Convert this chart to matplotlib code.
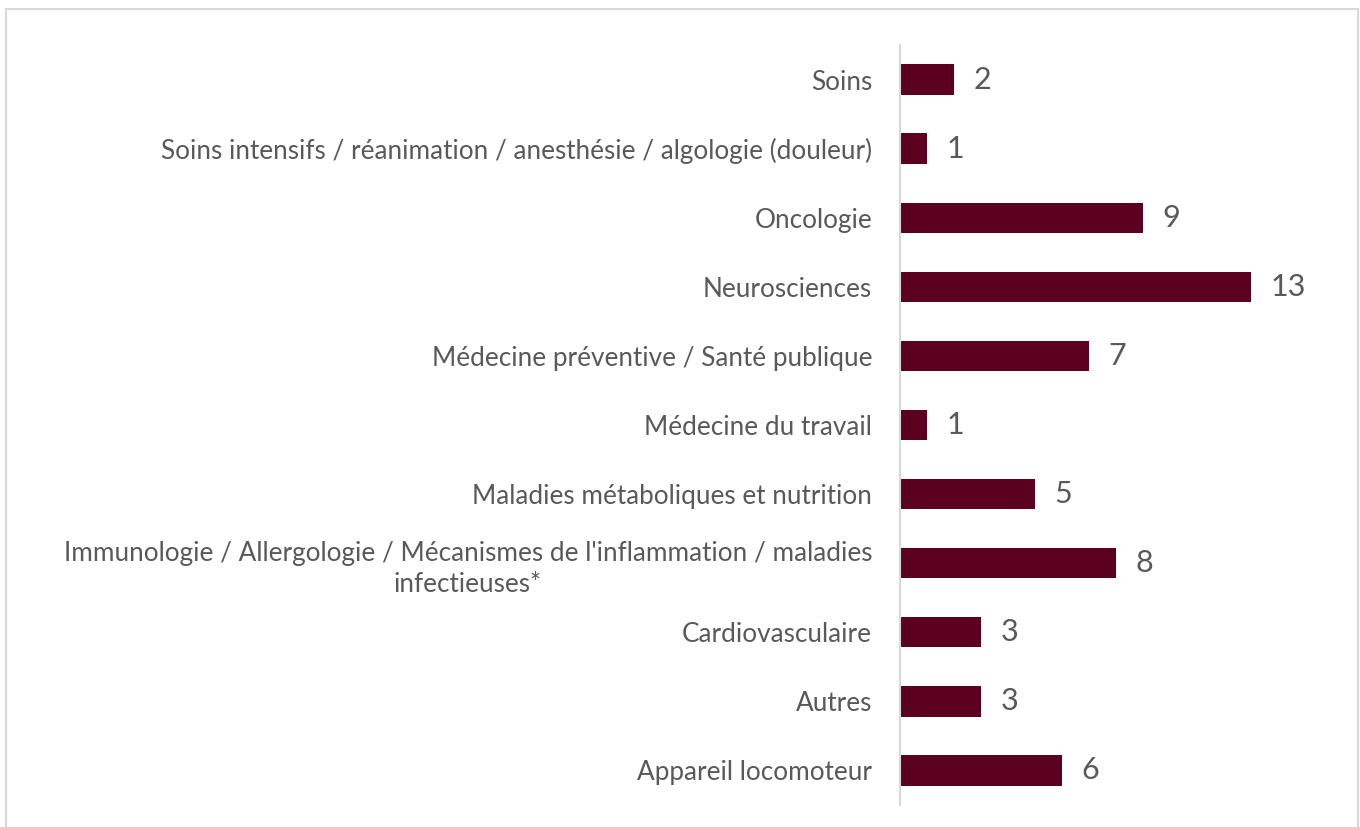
import matplotlib.pyplot as plt
from matplotlib.patches import Rectangle

categories = [
    "Soins",
    "Soins intensifs / réanimation / anesthésie / algologie (douleur)",
    "Oncologie",
    "Neurosciences",
    "Médecine préventive / Santé publique",
    "Médecine du travail",
    "Maladies métaboliques et nutrition",
    "Immunologie / Allergologie / Mécanismes de l'inflammation / maladies\ninfectieuses*",
    "Cardiovasculaire",
    "Autres",
    "Appareil locomoteur",
]
values = [2, 1, 9, 13, 7, 1, 5, 8, 3, 3, 6]

BAR_COLOR = "#5C0020"
TEXT_COLOR = "#595959"

plt.rcParams["font.family"] = ["Lato", "DejaVu Sans"]

W, H = 1360, 827
fig = plt.figure(figsize=(W / 100, H / 100), dpi=100)
fig.patch.set_facecolor("white")

# light grey frame around the chart area
fig.add_artist(Rectangle((6 / W, -0.01), 1352 / W, 1 - 9 / H + 0.01,
                         transform=fig.transFigure, fill=False,
                         edgecolor="#D9D9D9", linewidth=1.5))

left, right = 900 / W, (900 + 16 * 27) / W
bottom, top = 1 - 805 / H, 1 - 45 / H
ax = fig.add_axes([left, bottom, right - left, top - bottom])

pos = list(range(len(categories)))[::-1]
ax.barh(pos, values, height=0.44, color=BAR_COLOR)

for p, v in zip(pos, values):
    ax.text(v + 0.72, p, str(v), va="center", ha="left",
            fontsize=22, color=TEXT_COLOR)

ax.set_xlim(0, 16)
ax.set_ylim(-0.5, len(categories) - 0.5)
ax.set_yticks(pos)
ax.set_yticklabels(categories, fontsize=18.8, color=TEXT_COLOR,
                   ha="right", multialignment="center", linespacing=1.3)
ax.tick_params(axis="y", length=0, pad=20)
ax.set_xticks([])

for side in ["top", "right", "bottom"]:
    ax.spines[side].set_visible(False)
ax.spines["left"].set_color("#D9D9D9")
ax.spines["left"].set_linewidth(1.5)

fig.savefig("out.png", dpi=100)
